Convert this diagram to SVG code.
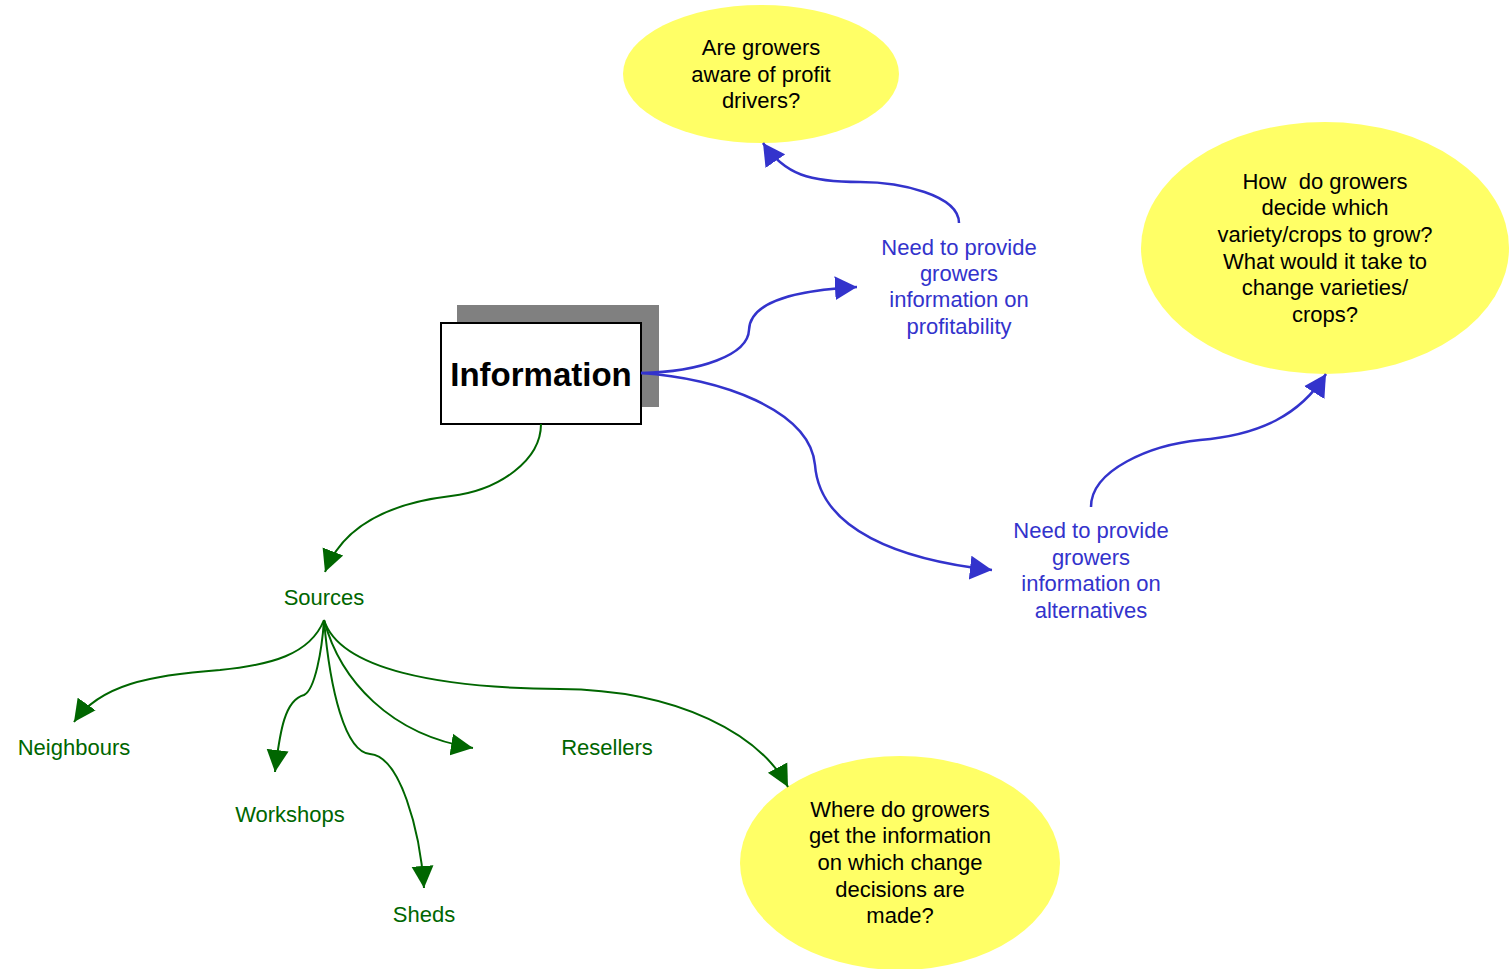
<svg xmlns="http://www.w3.org/2000/svg" width="1509" height="969" viewBox="0 0 1509 969">
  <style>
    text { font-family: "Liberation Sans", Arial, sans-serif; font-size: 22px; text-anchor: middle; white-space: pre; }
    .q { fill: #000000; }
    .b { fill: #3333CC; }
    .g { fill: #006600; }
    .bubble { fill: #FFFF66; stroke: none; }
    .blue { fill: none; stroke: #3333CC; stroke-width: 2.5; marker-end: url(#arrowBlue); }
    .green { fill: none; stroke: #006600; stroke-width: 2; marker-end: url(#arrowGreen); }
  </style>
  <defs>
    <marker id="arrowBlue" markerUnits="userSpaceOnUse" markerWidth="24" markerHeight="24" refX="22" refY="12" orient="auto" viewBox="0 0 24 24">
      <path d="M0,0 L22,12 L0,24 z" fill="#3333CC"/>
    </marker>
    <marker id="arrowGreen" markerUnits="userSpaceOnUse" markerWidth="24" markerHeight="24" refX="22" refY="12" orient="auto" viewBox="0 0 24 24">
      <path d="M0,1 L22,12 L0,23 z" fill="#006600"/>
    </marker>
  </defs>

  <rect width="1509" height="969" fill="#ffffff"/>

  <g id="information">
    <rect x="457" y="305" width="202" height="102" fill="#808080"/>
    <rect x="441" y="323" width="200" height="101" fill="#ffffff" stroke="#000000" stroke-width="2"/>
    <text x="541" y="386" style="font-size:33px;font-weight:bold" class="q">Information</text>
  </g>

  <g id="profit-drivers">
    <ellipse class="bubble" cx="761" cy="74" rx="138" ry="69"/>
    <text class="q" x="761" y="55">Are growers</text>
    <text class="q" x="761" y="82">aware of profit</text>
    <text class="q" x="761" y="108">drivers?</text>
  </g>

  <g id="variety-choice">
    <ellipse class="bubble" cx="1325" cy="248" rx="184" ry="126"/>
    <text class="q" x="1325" y="189">How  do growers</text>
    <text class="q" x="1325" y="215">decide which</text>
    <text class="q" x="1325" y="242">variety/crops to grow?</text>
    <text class="q" x="1325" y="269">What would it take to</text>
    <text class="q" x="1325" y="295">change varieties/</text>
    <text class="q" x="1325" y="322">crops?</text>
  </g>

  <g id="change-decisions">
    <ellipse class="bubble" cx="900" cy="863" rx="160" ry="107"/>
    <text class="q" x="900" y="817">Where do growers</text>
    <text class="q" x="900" y="843">get the information</text>
    <text class="q" x="900" y="870">on which change</text>
    <text class="q" x="900" y="897">decisions are</text>
    <text class="q" x="900" y="923">made?</text>
  </g>

  <g id="profitability">
    <text class="b" x="959" y="255">Need to provide</text>
    <text class="b" x="959" y="281">growers</text>
    <text class="b" x="959" y="307">information on</text>
    <text class="b" x="959" y="334">profitability</text>
  </g>

  <g id="alternatives">
    <text class="b" x="1091" y="538">Need to provide</text>
    <text class="b" x="1091" y="565">growers</text>
    <text class="b" x="1091" y="591">information on</text>
    <text class="b" x="1091" y="618">alternatives</text>
  </g>

  <g id="sources"><text class="g" x="324" y="605">Sources</text></g>
  <g id="neighbours"><text class="g" x="74" y="755">Neighbours</text></g>
  <g id="workshops"><text class="g" x="290" y="822">Workshops</text></g>
  <g id="sheds"><text class="g" x="424" y="922">Sheds</text></g>
  <g id="resellers"><text class="g" x="607" y="755">Resellers</text></g>

  <!-- connectors, drawn on top so the lines run over the box shadow -->
  <g id="connectors">
    <path class="blue" d="M641,373 C700,372 748,355 749,330 C750,300 800,290 857,287"/>
    <path class="blue" d="M959,223 C959,195 900,182 860,182 C810,182 785,175 763,143"/>
    <path class="blue" d="M641,373 C720,378 810,410 815,465 C820,530 900,560 992,570"/>
    <path class="blue" d="M1091,507 C1091,470 1150,445 1200,440 C1260,435 1300,415 1326,374"/>
    <path class="green" d="M541,424 C541,460 500,490 451,496 C400,502 345,520 325,572"/>
    <path class="green" d="M324,620 C310,655 270,665 220,670 C150,675 100,685 74,722"/>
    <path class="green" d="M324,620 C322,650 315,690 304,695 C285,700 280,730 275,772"/>
    <path class="green" d="M324,620 C330,690 345,752 370,754 C400,756 420,830 424,888"/>
    <path class="green" d="M324,620 C340,680 390,735 473,748"/>
    <path class="green" d="M324,620 C340,670 440,688 560,689 C680,690 760,735 788,787"/>
  </g>
</svg>
